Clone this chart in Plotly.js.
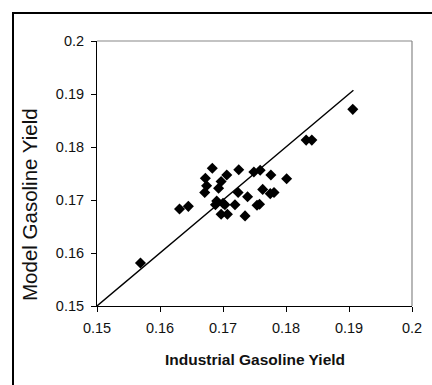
<!DOCTYPE html>
<html>
<head>
<meta charset="utf-8">
<script src="https://cdn.plot.ly/plotly-3.0.1.min.js"></script>
<style>
  html, body { margin: 0; padding: 0; background: #fff; overflow: hidden; }
  #wrap { position: relative; width: 432px; height: 385px; }
  #frame { position: absolute; left: 12px; top: 12px; width: 500px; height: 500px;
           border-left: 2px solid #000; border-top: 2px solid #000; }
  #chart { position: absolute; left: 0; top: 0; width: 432px; height: 385px; }
</style>
</head>
<body>
<div id="wrap">
  <div id="frame"></div>
  <div id="chart"></div>
</div>
<script>
// Industrial vs model gasoline yield
const industrialYield = [
  0.1569, 0.1631, 0.1645, 0.1683, 0.1672, 0.1674, 0.1671, 0.1697, 0.1693,
  0.1706, 0.1725, 0.1749, 0.1759, 0.1776, 0.1801, 0.1763, 0.1775, 0.1781,
  0.1724, 0.1739, 0.1690, 0.1688, 0.1700, 0.1703, 0.1719, 0.1697, 0.1707,
  0.1735, 0.1754, 0.1758, 0.1832, 0.1841, 0.1906
];
const modelYield = [
  0.1581, 0.1683, 0.1688, 0.1760, 0.1741, 0.1727, 0.1714, 0.1735, 0.1722,
  0.1747, 0.1757, 0.1753, 0.1756, 0.1747, 0.1740, 0.1720, 0.1712, 0.1714,
  0.1714, 0.1706, 0.1698, 0.1691, 0.1694, 0.1691, 0.1691, 0.1673, 0.1673,
  0.1670, 0.1690, 0.1692, 0.1813, 0.1813, 0.1871
];
// Parity line y = x
const parityX = [0.1497, 0.1907];
const parityY = [0.1497, 0.1907];

const tickValues = [0.15, 0.16, 0.17, 0.18, 0.19, 0.2];
const tickLabels = ['0.15', '0.16', '0.17', '0.18', '0.19', '0.2'];

const font = 'Liberation Sans, Arial, sans-serif';

const traces = [
  {
    x: parityX, y: parityY, type: 'scatter', mode: 'lines', cliponaxis: false,
    line: { color: '#000', width: 1.4 }, hoverinfo: 'skip'
  },
  {
    x: industrialYield, y: modelYield, type: 'scatter', mode: 'markers',
    marker: { symbol: 'diamond', size: 8.5, color: '#000', line: { width: 0 } }
  }
];

const axisCommon = {
  range: [0.15, 0.2],
  tickvals: tickValues,
  ticktext: tickLabels,
  ticks: 'outside',
  ticklen: 5,
  tickwidth: 1,
  tickcolor: '#000',
  showline: true,
  linecolor: '#000',
  linewidth: 1,
  showgrid: false,
  zeroline: false,
  tickfont: { family: font, size: 14.5, color: '#111' }
};

const layout = {
  width: 432,
  height: 385,
  margin: { l: 97, r: 20, t: 41, b: 79 },
  paper_bgcolor: 'rgba(0,0,0,0)',
  plot_bgcolor: '#fff',
  showlegend: false,
  xaxis: Object.assign({}, axisCommon, { ticklabelstandoff: 4 }),
  yaxis: Object.assign({}, axisCommon, { ticklabelstandoff: 4 }),
  shapes: [
    // plot area top and right edges
    { type: 'line', xref: 'paper', yref: 'paper', x0: 0, x1: 1, y0: 1, y1: 1,
      line: { color: '#888', width: 1.2 } },
    { type: 'line', xref: 'paper', yref: 'paper', x0: 1, x1: 1, y0: 0, y1: 1,
      line: { color: '#888', width: 1.2 } }
  ],
  annotations: [
    { text: 'Industrial Gasoline Yield', xref: 'paper', yref: 'paper',
      x: 0.5, y: -0.2, xanchor: 'center', yanchor: 'middle', showarrow: false,
      font: { family: font, size: 15.5, color: '#111', weight: 'bold' } },
    { text: 'Model Gasoline Yield', xref: 'paper', yref: 'paper',
      x: -0.212, y: 0.382, xanchor: 'center', yanchor: 'middle', textangle: -90,
      showarrow: false, font: { family: font, size: 20.5, color: '#111' } }
  ]
};

Plotly.newPlot('chart', traces, layout, { staticPlot: true, displayModeBar: false });
</script>
</body>
</html>
